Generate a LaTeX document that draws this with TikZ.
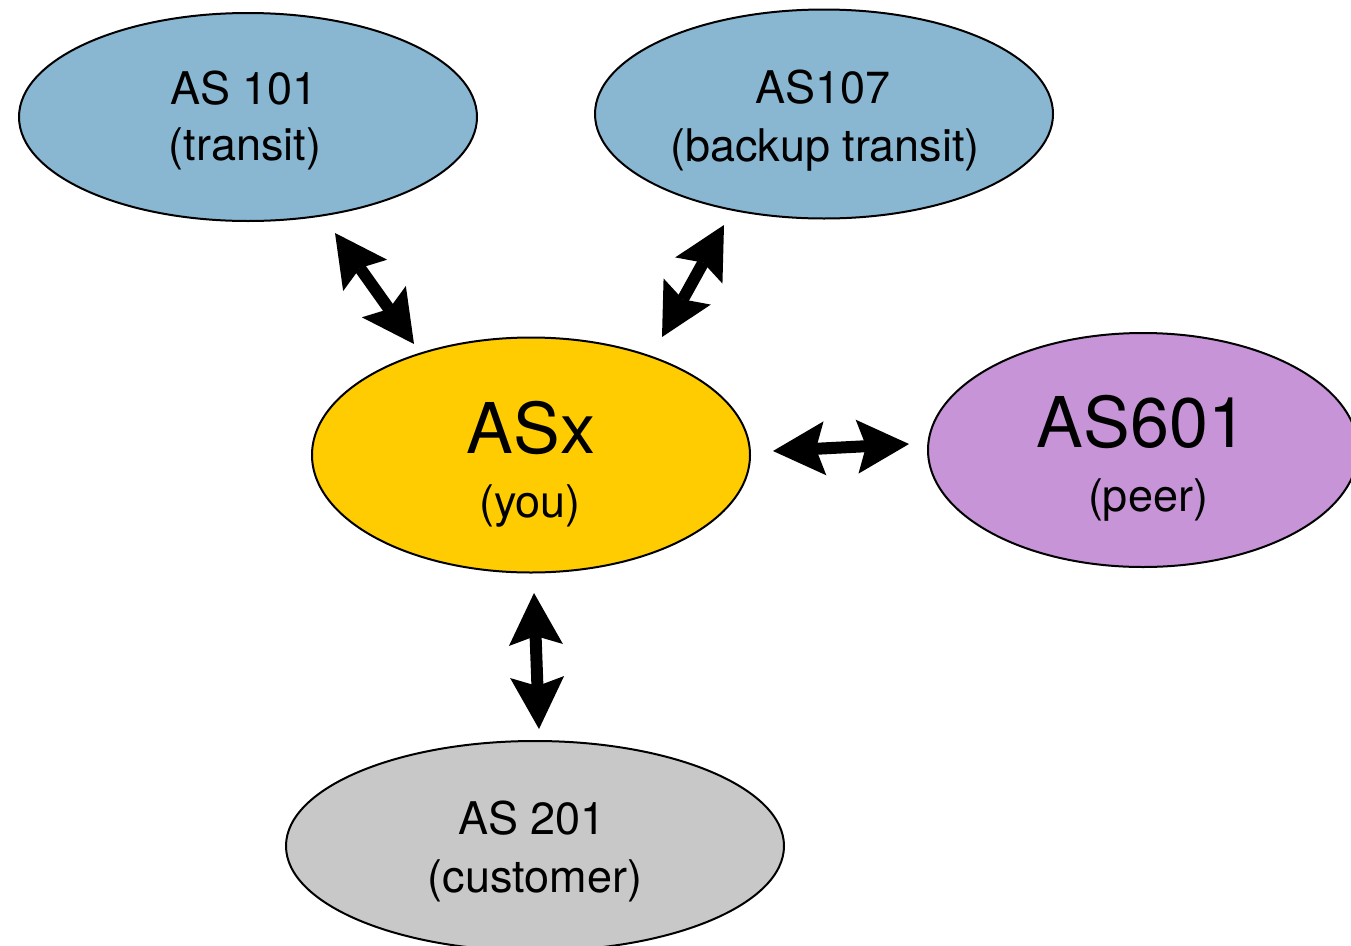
\documentclass[tikz,border=0pt]{standalone}
\usepackage{fontspec}
\setmainfont{TeX Gyre Heros}
\usetikzlibrary{arrows.meta,shapes.geometric,calc}

\definecolor{transitblue}{RGB}{137,183,210}
\definecolor{youyellow}{RGB}{254,204,0}
\definecolor{peerpurple}{RGB}{199,148,216}
\definecolor{custgray}{RGB}{200,200,200}

\tikzset{
  asnode/.style={ellipse, draw=black, line width=2pt, inner sep=0pt},
  small/.style={anchor=base, inner sep=0pt, font=\fontsize{45}{54}\selectfont},
  big/.style={anchor=base, inner sep=0pt, font=\fontsize{70}{84}\selectfont},
  link/.style={line width=12pt, draw=black,
    {Stealth[length=52pt, width=54pt, inset=9pt, line width=0pt]}-{Stealth[length=52pt, width=54pt, inset=9pt, line width=0pt]}},
}

\begin{document}
\begin{tikzpicture}[x=1pt, y=-1pt]
\useasboundingbox (0,0) rectangle (1351,945);
\clip (0,0) rectangle (1351,945);

% autonomous systems
\node[asnode, fill=transitblue, minimum width=458pt, minimum height=208pt] (as101) at (248,117) {};
\node[asnode, fill=transitblue, minimum width=458pt, minimum height=209pt] (as107) at (824,114) {};
\node[asnode, fill=youyellow, minimum width=438pt, minimum height=235pt] (asx) at (531,455) {};
\node[asnode, fill=peerpurple, minimum width=430pt, minimum height=234pt] (as601) at (1143,450) {};
\node[asnode, fill=custgray, minimum width=498pt, minimum height=210pt] (as201) at (535,846) {};

% labels
\node[small] (as101-name) at (244,104) {AS 101};
\node[small] (as101-role) at (245,160) {(transit)};
\node[small] (as107-name) at (823,103) {AS107};
\node[small] (as107-role) at (825,161) {(backup transit)};
\node[big] (asx-name) at (531,453) {ASx};
\node[small] (asx-role) at (530,517) {(you)};
\node[big] (as601-name) at (1142,447) {AS601};
\node[small] (as601-role) at (1148,511) {(peer)};
\node[small] (as201-name) at (532,834) {AS 201};
\node[small] (as201-role) at (535,892) {(customer)};

% relationships
\draw[link] ($(as101.center)+(87,116)$) -- ($(asx.center)+(-117,-111)$);
\draw[link] ($(as107.center)+(-100,111)$) -- ($(asx.center)+(131,-118)$);
\draw[link] ($(asx.center)+(242,-4)$) -- ($(as601.center)+(-234,-6)$);
\draw[link] ($(asx.center)+(3,138)$) -- ($(as201.center)+(4,-117)$);
\end{tikzpicture}
\end{document}
